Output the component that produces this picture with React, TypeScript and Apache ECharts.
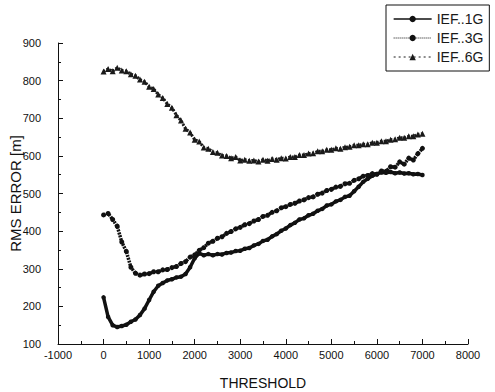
import React, { useEffect, useRef } from "react";
import * as echarts from "echarts";

const thresholds = [
  0, 100, 200, 300, 400, 500, 600, 700, 800, 900,
  1000, 1100, 1200, 1300, 1400, 1500, 1600, 1700, 1800, 1900,
  2000, 2100, 2200, 2300, 2400, 2500, 2600, 2700, 2800, 2900,
  3000, 3100, 3200, 3300, 3400, 3500, 3600, 3700, 3800, 3900,
  4000, 4100, 4200, 4300, 4400, 4500, 4600, 4700, 4800, 4900,
  5000, 5100, 5200, 5300, 5400, 5500, 5600, 5700, 5800, 5900,
  6000, 6100, 6200, 6300, 6400, 6500, 6600, 6700, 6800, 6900,
  7000,
];

const ief1G = [
  224, 172, 150, 145, 148, 151, 159, 165, 177, 194,
  217, 239, 255, 262, 269, 272, 277, 279, 286, 304,
  328, 341, 336, 339, 336, 339, 338, 342, 343, 347,
  348, 353, 355, 362, 366, 374, 377, 386, 392, 401,
  407, 416, 422, 431, 434, 442, 446, 454, 459, 468,
  471, 479, 483, 491, 494, 506, 518, 531, 539, 547,
  552, 556, 555, 557, 554, 556, 553, 554, 551, 552,
  549,
];

const ief3G = [
  443, 447, 431, 413, 371, 346, 304, 288, 283, 286,
  287, 292, 292, 297, 298, 303, 306, 314, 319, 331,
  337, 349, 356, 368, 373, 381, 385, 394, 399, 406,
  410, 417, 420, 427, 431, 439, 442, 450, 454, 462,
  465, 471, 474, 480, 483, 489, 491, 498, 501, 508,
  511, 517, 519, 526, 527, 535, 539, 546, 548, 553,
  551, 560, 559, 571, 570, 584, 578, 594, 589, 606,
  620,
];

const ief6G = [
  824, 831, 825, 834, 827, 825, 817, 813, 803, 797,
  784, 778, 763, 754, 738, 728, 708, 694, 672, 662,
  643, 638, 622, 619, 610, 608, 601, 600, 594, 597,
  588, 590, 587, 588, 585, 590, 587, 592, 590, 594,
  593, 597, 597, 602, 602, 606, 607, 612, 612, 616,
  616, 620, 619, 623, 624, 628, 628, 631, 631, 635,
  635, 639, 639, 643, 644, 648, 648, 652, 652, 657,
  659,
];

const seriesNames = ["IEF..1G", "IEF..3G", "IEF..6G"];

const FONT = 'Arial, "Liberation Sans", Helvetica, sans-serif';

function pairs(ys: number[]) {
  return thresholds.map((x, i) => [x, ys[i]]);
}

export default function App() {
  const ref = useRef<HTMLDivElement>(null);

  useEffect(() => {
    if (!ref.current) return;
    const chart = echarts.init(ref.current, undefined, { renderer: "svg" });
    const axisCommon = {
      nameMoveOverlap: false,
      axisLine: { show: true, onZero: false, lineStyle: { color: "#111", width: 1 } },
      axisTick: { show: true, inside: true, length: 5, lineStyle: { color: "#111" } },
      minorTick: { show: true, splitNumber: 2, length: 3, lineStyle: { color: "#111" } },
      splitLine: { show: false },
    };
    chart.setOption({
      animation: false,
      backgroundColor: "#fff",
      grid: {
        left: 58,
        right: 27,
        top: 43,
        bottom: 48,
        containLabel: false,
        outerBoundsMode: "none",
      },
      legend: {
        orient: "vertical",
        left: 386,
        top: 5,
        data: [
          { name: seriesNames[0], lineStyle: { width: 1.3, type: "solid" } },
          { name: seriesNames[1], lineStyle: { width: 1, type: "dotted" } },
          { name: seriesNames[2], lineStyle: { width: 1, type: [2, 3] } },
        ],
        borderColor: "#111",
        borderWidth: 1,
        padding: [6, 6, 6, 7],
        itemGap: 3,
        itemWidth: 38,
        itemHeight: 8,
        textStyle: { fontFamily: FONT, fontSize: 14, color: "#1a1a1a", lineHeight: 16 },
      },
      xAxis: {
        type: "value",
        min: -1000,
        max: 8000,
        interval: 1000,
        name: "THRESHOLD",
        nameLocation: "middle",
        nameGap: 32,
        nameTextStyle: { fontFamily: FONT, fontSize: 14, color: "#111" },
        ...axisCommon,
        axisLabel: {
          fontFamily: FONT,
          fontSize: 11,
          color: "#111",
          margin: 5,
          formatter: (v: number) => String(v),
        },
      },
      yAxis: {
        type: "value",
        min: 100,
        max: 900,
        interval: 100,
        name: "RMS ERROR [m]",
        nameLocation: "middle",
        nameGap: 35,
        nameTextStyle: { fontFamily: FONT, fontSize: 15, color: "#111" },
        ...axisCommon,
        axisLabel: {
          fontFamily: FONT,
          fontSize: 11,
          color: "#111",
          margin: 17,
          formatter: (v: number) => String(v),
        },
      },
      series: [
        {
          name: seriesNames[0],
          type: "line",
          data: pairs(ief1G),
          symbol: "circle",
          symbolSize: 4.5,
          itemStyle: { color: "#111" },
          lineStyle: { color: "#111", width: 3.5 },
        },
        {
          name: seriesNames[1],
          type: "line",
          data: pairs(ief3G),
          symbol: "circle",
          symbolSize: 5,
          itemStyle: { color: "#111" },
          lineStyle: { color: "#111", width: 3.5, type: [2, 1] },
        },
        {
          name: seriesNames[2],
          type: "line",
          data: pairs(ief6G),
          symbol: "triangle",
          symbolSize: 6,
          itemStyle: { color: "#1a1a1a" },
          lineStyle: { color: "#1a1a1a", width: 3, type: [2, 1.5] },
        },
      ],
    });
    return () => chart.dispose();
  }, []);

  return (
    <div
      ref={ref}
      style={{ position: "fixed", left: 0, top: 0, width: 495, height: 392, background: "#fff" }}
    />
  );
}
